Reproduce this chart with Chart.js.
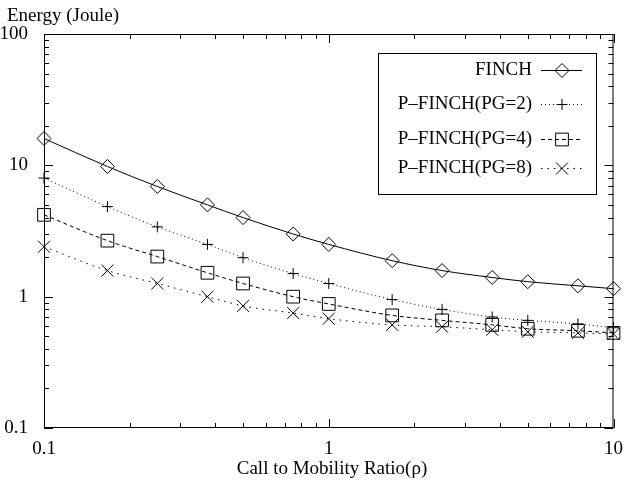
<!DOCTYPE html>
<html>
<head>
<meta charset="utf-8">
<script src="https://cdn.jsdelivr.net/npm/chart.js@4"></script>
<style>
html,body{margin:0;padding:0;background:#fff;}
#wrap{width:625px;height:484px;}
</style>
</head>
<body>
<div id="wrap"><canvas id="c" width="625" height="484"></canvas></div>
<script>
const ratios = [0.1, 0.167, 0.25, 0.375, 0.5, 0.75, 1, 1.67, 2.5, 3.75, 5, 7.5, 10];
const finch = [16, 9.8, 6.9, 5.0, 4.0, 3.0, 2.5, 1.88, 1.58, 1.40, 1.30, 1.21, 1.15];
const pfinch2 = [8.0, 4.85, 3.4, 2.5, 1.98, 1.5, 1.26, 0.95, 0.80, 0.70, 0.66, 0.62, 0.58];
const pfinch4 = [4.2, 2.67, 2.02, 1.52, 1.26, 1.0, 0.88, 0.72, 0.66, 0.61, 0.57, 0.55, 0.53];
const pfinch8 = [2.4, 1.58, 1.26, 1.0, 0.85, 0.75, 0.68, 0.61, 0.59, 0.56, 0.54, 0.53, 0.52];
const seriesNames = ['FINCH', 'P\u2013FINCH(PG=2)', 'P\u2013FINCH(PG=4)', 'P\u2013FINCH(PG=8)'];
const xTickLabels = [0.1, 1, 10];
const yTickLabels = [0.1, 1, 10, 100];
const xTitle = 'Call to Mobility Ratio(\u03c1)';
const yTitle = 'Energy (Joule)';

const FONT = '"Liberation Serif", "DejaVu Serif", serif';
const styles = [
  {pointStyle: 'rectRot', radius: 7, dash: []},
  {pointStyle: 'cross', radius: 5.5, dash: [1, 3]},
  {pointStyle: 'rect', radius: 9, dash: [4, 3]},
  {pointStyle: 'crossRot', radius: 8.5, dash: [1.5, 5]}
];
const allSeries = [finch, pfinch2, pfinch4, pfinch8];

const datasets = allSeries.map((vals, i) => ({
  label: seriesNames[i],
  data: ratios.map((x, j) => ({x: x, y: vals[j]})),
  borderColor: '#000',
  borderWidth: 1,
  borderDash: styles[i].dash,
  pointStyle: styles[i].pointStyle,
  pointRadius: styles[i].radius,
  pointBorderColor: '#000',
  pointBackgroundColor: 'rgba(0,0,0,0)',
  pointBorderWidth: 1,
  cubicInterpolationMode: 'monotone',
  fill: false,
  clip: false
}));

function fmt(v) { return String(v); }

const framePlugin = {
  id: 'frame',
  afterDraw(chart) {
    const ctx = chart.ctx;
    const a = chart.chartArea;
    const xs = chart.scales.x, ys = chart.scales.y;
    ctx.save();
    ctx.strokeStyle = '#000';
    ctx.lineWidth = 1;
    ctx.setLineDash([]);
    ctx.strokeRect(a.left + 0.5, a.top + 0.5, a.right - a.left - 1, a.bottom - a.top - 1);
    ctx.beginPath();
    for (let d = 0.1; d <= 10.0001; d *= 10) {
      for (let m = 1; m <= 9; m++) {
        const v = d * m;
        if (v > 10.0001) break;
        const px = Math.round(xs.getPixelForValue(v)) + 0.5;
        const len = m === 1 ? 9 : 5;
        ctx.moveTo(px, a.bottom); ctx.lineTo(px, a.bottom - len);
        ctx.moveTo(px, a.top); ctx.lineTo(px, a.top + len);
      }
    }
    for (let d = 0.1; d <= 100.0001; d *= 10) {
      for (let m = 1; m <= 9; m++) {
        const v = d * m;
        if (v > 100.0001) break;
        const py = Math.round(ys.getPixelForValue(v)) + 0.5;
        const len = m === 1 ? 9 : 5;
        ctx.moveTo(a.left, py); ctx.lineTo(a.left + len, py);
        ctx.moveTo(a.right, py); ctx.lineTo(a.right - len, py);
      }
    }
    ctx.stroke();

    ctx.fillStyle = '#000';
    ctx.font = '19px ' + FONT;
    ctx.textBaseline = 'middle';
    ctx.textAlign = 'left';
    ctx.fillText(yTitle, 7, 16);
    ctx.textAlign = 'center';
    ctx.fillText(xTitle, 332, 469);

    const bx = 378, by = 53, bw = 218, bh = 141;
    ctx.fillStyle = '#fff';
    ctx.fillRect(bx, by, bw, bh);
    ctx.strokeStyle = '#000';
    ctx.strokeRect(bx + 0.5, by + 0.5, bw, bh);
    const rows = [70, 104, 139, 168];
    chart.data.datasets.forEach((ds, i) => {
      const y = rows[i];
      ctx.fillStyle = '#000';
      ctx.textAlign = 'right';
      ctx.textBaseline = 'middle';
      ctx.font = '19px ' + FONT;
      ctx.fillText(ds.label, 532, y);
      ctx.beginPath();
      ctx.setLineDash(ds.borderDash);
      ctx.moveTo(541, y + 0.5); ctx.lineTo(582, y + 0.5);
      ctx.stroke();
      ctx.setLineDash([]);
      ctx.fillStyle = 'rgba(0,0,0,0)';
      Chart.helpers.drawPoint(ctx, {pointStyle: ds.pointStyle, radius: ds.pointRadius, borderWidth: 1, rotation: 0}, 562, y + 0.5);
    });
    ctx.restore();
  }
};

new Chart(document.getElementById('c'), {
  type: 'line',
  data: {datasets: datasets},
  options: {
    responsive: false,
    animation: false,
    devicePixelRatio: 1,
    layout: {padding: {left: 0, top: 34, right: 11, bottom: 0}},
    plugins: {legend: {display: false}, tooltip: {enabled: false}, title: {display: false}},
    scales: {
      x: {
        type: 'logarithmic',
        min: 0.1, max: 10,
        grid: {display: false},
        border: {display: false},
        afterBuildTicks(s) { s.ticks = xTickLabels.map(v => ({value: v})); },
        afterFit(s) { s.height = 56; },
        ticks: {
          autoSkip: false, maxRotation: 0, padding: 2,
          color: '#000', font: {family: FONT, size: 19},
          callback: (v) => fmt(v)
        }
      },
      y: {
        type: 'logarithmic',
        min: 0.1, max: 100,
        grid: {display: false},
        border: {display: false},
        afterBuildTicks(s) { s.ticks = yTickLabels.map(v => ({value: v})); },
        afterFit(s) { s.width = 44; },
        ticks: {
          autoSkip: false, padding: 8,
          color: '#000', font: {family: FONT, size: 19},
          callback: (v) => fmt(v)
        }
      }
    }
  },
  plugins: [framePlugin]
});
</script>
</body>
</html>
